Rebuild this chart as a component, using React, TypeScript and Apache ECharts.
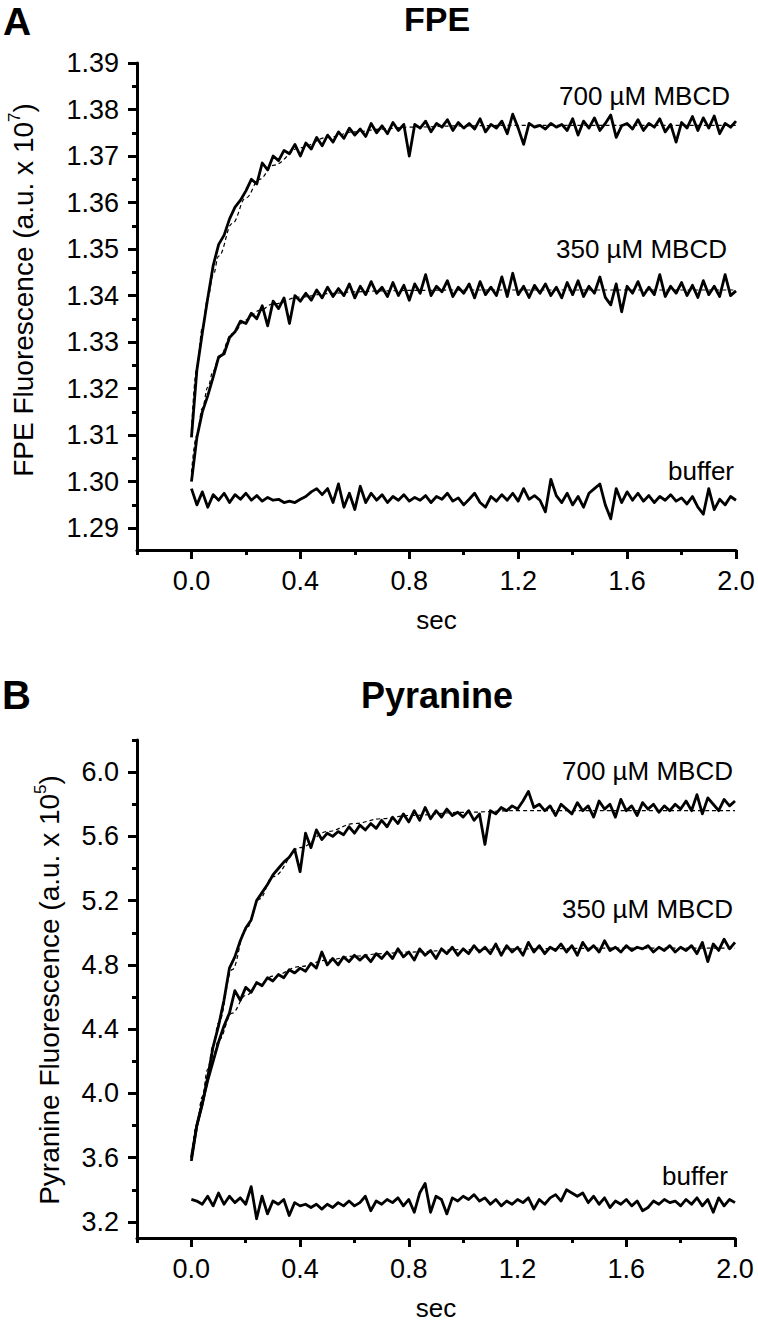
import React, { useEffect, useRef } from "react";
import * as echarts from "echarts";

// time sampling of the recorded traces (s)
const TIME = Array.from({ length: 101 }, (_, i) => Math.round(i * 2) / 100);
const FIT_TIME = [0, 0.02, 0.04, 0.06, 0.08, 0.1, 0.15, 0.2, 0.25, 0.3, 0.4, 0.5, 0.6, 0.7, 0.8, 1.0, 1.2, 1.6, 2.0];

// Panel A: FPE fluorescence (a.u. x 10^7)
const FPE_700 = [
  1.3095, 1.3240, 1.3320, 1.3395, 1.3465, 1.3510, 1.3530, 1.3565, 1.3590, 1.3605,
  1.3625, 1.3650, 1.3640, 1.3685, 1.3670, 1.3700, 1.3690, 1.3712, 1.3705, 1.3725,
  1.3700, 1.3728, 1.3715, 1.3740, 1.3722, 1.3745, 1.3730, 1.3752, 1.3738, 1.3760,
  1.3745, 1.3758, 1.3742, 1.3770, 1.3750, 1.3765, 1.3748, 1.3772, 1.3755, 1.3768,
  1.3700, 1.3768, 1.3760, 1.3775, 1.3752, 1.3770, 1.3762, 1.3778, 1.3755, 1.3772,
  1.3760, 1.3770, 1.3758, 1.3780, 1.3752, 1.3768, 1.3760, 1.3775, 1.3748, 1.3790,
  1.3760, 1.3725, 1.3770, 1.3762, 1.3766, 1.3758, 1.3770, 1.3762, 1.3768, 1.3755,
  1.3780, 1.3745, 1.3775, 1.3760, 1.3782, 1.3755, 1.3770, 1.3788, 1.3740, 1.3765,
  1.3770, 1.3758, 1.3778, 1.3755, 1.3770, 1.3762, 1.3780, 1.3752, 1.3768, 1.3730,
  1.3772, 1.3760, 1.3785, 1.3755, 1.3782, 1.3760, 1.3786, 1.3748, 1.3770, 1.3762,
  1.3775,
];
const FPE_350 = [
  1.3000, 1.3095, 1.3150, 1.3185, 1.3225, 1.3268, 1.3275, 1.3310, 1.3322, 1.3345,
  1.3340, 1.3362, 1.3350, 1.3378, 1.3335, 1.3388, 1.3372, 1.3395, 1.3340, 1.3400,
  1.3388, 1.3405, 1.3390, 1.3412, 1.3395, 1.3418, 1.3398, 1.3415, 1.3400, 1.3425,
  1.3395, 1.3420, 1.3402, 1.3430, 1.3405, 1.3418, 1.3398, 1.3428, 1.3400, 1.3422,
  1.3390, 1.3425, 1.3405, 1.3445, 1.3400, 1.3420, 1.3408, 1.3432, 1.3398, 1.3418,
  1.3405, 1.3425, 1.3395, 1.3430, 1.3402, 1.3418, 1.3400, 1.3440, 1.3398, 1.3448,
  1.3402, 1.3420, 1.3396, 1.3422, 1.3405, 1.3425, 1.3400, 1.3418, 1.3395, 1.3428,
  1.3402, 1.3432, 1.3398, 1.3420, 1.3405, 1.3440, 1.3396, 1.3380, 1.3425, 1.3365,
  1.3420, 1.3405, 1.3430, 1.3400, 1.3418, 1.3402, 1.3445, 1.3398, 1.3420, 1.3405,
  1.3428, 1.3400, 1.3422, 1.3396, 1.3432, 1.3402, 1.3420, 1.3398, 1.3445, 1.3400,
  1.3410,
];
const FPE_BUFFER = [
  1.2985, 1.2950, 1.2978, 1.2945, 1.2972, 1.2960, 1.2975, 1.2955, 1.2972, 1.2962,
  1.2975, 1.2960, 1.2970, 1.2958, 1.2966, 1.2960, 1.2962, 1.2955, 1.2958, 1.2955,
  1.2962, 1.2968, 1.2978, 1.2985, 1.2972, 1.2985, 1.2955, 1.2995, 1.2945, 1.2975,
  1.2940, 1.2990, 1.2955, 1.2975, 1.2960, 1.2972, 1.2955, 1.2968, 1.2960, 1.2972,
  1.2958, 1.2966, 1.2960, 1.2970, 1.2955, 1.2968, 1.2962, 1.2975, 1.2958, 1.2965,
  1.2950, 1.2962, 1.2975, 1.2955, 1.2945, 1.2968, 1.2958, 1.2972, 1.2960, 1.2975,
  1.2958, 1.2985, 1.2962, 1.2970, 1.2960, 1.2935, 1.3005, 1.2970, 1.2955, 1.2975,
  1.2950, 1.2968, 1.2945, 1.2975, 1.2985, 1.2995, 1.2950, 1.2920, 1.2985, 1.2955,
  1.2978, 1.2960, 1.2975, 1.2958, 1.2970, 1.2955, 1.2968, 1.2960, 1.2972, 1.2958,
  1.2965, 1.2952, 1.2968, 1.2945, 1.2930, 1.2985, 1.2940, 1.2962, 1.2950, 1.2968,
  1.2960,
];
const FPE_700_FIT = [1.3110, 1.3245, 1.3330, 1.3395, 1.3445, 1.3485, 1.3555, 1.3610, 1.3650, 1.3680, 1.3718, 1.3740, 1.3752, 1.3758, 1.3762, 1.3765, 1.3766, 1.3766, 1.3766];
const FPE_350_FIT = [1.3020, 1.3100, 1.3158, 1.3203, 1.3238, 1.3266, 1.3318, 1.3348, 1.3368, 1.3382, 1.3397, 1.3404, 1.3408, 1.3410, 1.3411, 1.3412, 1.3412, 1.3412, 1.3412];

// Panel B: Pyranine fluorescence (a.u. x 10^5)
const PYR_700 = [
  3.60, 3.80, 3.93, 4.10, 4.29, 4.42, 4.58, 4.78, 4.85, 4.95,
  5.03, 5.08, 5.20, 5.25, 5.30, 5.36, 5.40, 5.44, 5.47, 5.52,
  5.38, 5.62, 5.53, 5.64, 5.58, 5.62, 5.60, 5.63, 5.61, 5.66,
  5.62, 5.67, 5.64, 5.68, 5.65, 5.70, 5.66, 5.72, 5.68, 5.74,
  5.69, 5.76, 5.70, 5.78, 5.71, 5.76, 5.72, 5.77, 5.73, 5.75,
  5.72, 5.76, 5.70, 5.74, 5.55, 5.76, 5.74, 5.78, 5.76, 5.79,
  5.77, 5.82, 5.88, 5.78, 5.80, 5.76, 5.79, 5.73, 5.80, 5.77,
  5.74, 5.81, 5.76, 5.79, 5.72, 5.82, 5.77, 5.80, 5.72, 5.83,
  5.76, 5.79, 5.73, 5.81, 5.77, 5.80, 5.75, 5.79, 5.76, 5.80,
  5.77, 5.82, 5.76, 5.86, 5.74, 5.84, 5.80, 5.76, 5.83, 5.79,
  5.82,
];
const PYR_350 = [
  3.58, 3.80, 3.94, 4.08, 4.20, 4.32, 4.42, 4.50, 4.64, 4.58,
  4.66, 4.63, 4.69, 4.67, 4.72, 4.70, 4.74, 4.72, 4.77, 4.75,
  4.78, 4.76, 4.81, 4.78, 4.88, 4.80, 4.84, 4.80, 4.85, 4.82,
  4.86, 4.83, 4.86, 4.82, 4.87, 4.84, 4.88, 4.84, 4.90, 4.85,
  4.88, 4.83, 4.90, 4.86, 4.89, 4.84, 4.90, 4.87, 4.91, 4.86,
  4.90, 4.87, 4.92, 4.88, 4.91, 4.87, 4.93, 4.86, 4.92, 4.88,
  4.91, 4.86, 4.94, 4.88, 4.92, 4.87, 4.91, 4.89, 4.93, 4.88,
  4.92, 4.86, 4.94, 4.89, 4.92, 4.88, 4.95, 4.89, 4.91, 4.88,
  4.92, 4.89, 4.91, 4.90, 4.92, 4.88, 4.91, 4.89, 4.92, 4.88,
  4.91, 4.89, 4.92, 4.87, 4.94, 4.82, 4.93, 4.89, 4.96, 4.90,
  4.94,
];
const PYR_BUFFER = [
  3.34, 3.33, 3.31, 3.36, 3.30, 3.38, 3.31, 3.36, 3.32, 3.35,
  3.31, 3.42, 3.22, 3.36, 3.25, 3.33, 3.31, 3.34, 3.24, 3.32,
  3.30, 3.31, 3.29, 3.31, 3.28, 3.31, 3.29, 3.32, 3.30, 3.33,
  3.30, 3.32, 3.36, 3.27, 3.33, 3.31, 3.34, 3.32, 3.35, 3.30,
  3.34, 3.26, 3.38, 3.44, 3.26, 3.36, 3.34, 3.25, 3.35, 3.33,
  3.36, 3.34, 3.37, 3.33, 3.35, 3.31, 3.34, 3.30, 3.33, 3.31,
  3.34, 3.32, 3.35, 3.28, 3.34, 3.31, 3.35, 3.37, 3.33, 3.40,
  3.38, 3.36, 3.38, 3.32, 3.36, 3.31, 3.35, 3.29, 3.33, 3.31,
  3.34, 3.30, 3.33, 3.27, 3.29, 3.33, 3.31, 3.34, 3.32, 3.33,
  3.30, 3.34, 3.31, 3.35, 3.30, 3.34, 3.26, 3.35, 3.30, 3.34,
  3.32,
];
const PYR_700_FIT = [3.58, 3.80, 3.98, 4.15, 4.30, 4.44, 4.77, 5.02, 5.21, 5.35, 5.53, 5.63, 5.68, 5.71, 5.73, 5.75, 5.76, 5.76, 5.76];
const PYR_350_FIT = [3.58, 3.80, 3.97, 4.11, 4.23, 4.33, 4.50, 4.61, 4.68, 4.73, 4.79, 4.83, 4.855, 4.87, 4.88, 4.895, 4.90, 4.905, 4.905];

// tick values
const X_MAJOR = [0, 0.4, 0.8, 1.2, 1.6, 2.0];
const X_MINOR = [-0.2, 0.2, 0.6, 1.0, 1.4, 1.8];
const FPE_Y_MAJOR = [1.29, 1.30, 1.31, 1.32, 1.33, 1.34, 1.35, 1.36, 1.37, 1.38, 1.39];
const FPE_Y_MINOR = [1.295, 1.305, 1.315, 1.325, 1.335, 1.345, 1.355, 1.365, 1.375, 1.385];
const PYR_Y_MAJOR = [3.2, 3.6, 4.0, 4.4, 4.8, 5.2, 5.6, 6.0];
const PYR_Y_MINOR = [3.4, 3.8, 4.2, 4.6, 5.0, 5.4, 5.8, 6.2];

const FONT = '"Liberation Sans", Arial, Helvetica, sans-serif';

export default function App() {
  const ref = useRef<HTMLDivElement>(null);

  useEffect(() => {
    if (!ref.current) return;
    const chart = echarts.init(ref.current, null, { renderer: "svg" });

    const pair = (ts: number[], vs: number[]) => ts.map((t, i) => [t, vs[i]]);
    const trace = (name: string, idx: number, vs: number[]) => ({
      type: "line", name, xAxisIndex: idx, yAxisIndex: idx, data: pair(TIME, vs),
      showSymbol: false, symbol: "none", silent: true, z: 2,
      lineStyle: { color: "#000", width: 2.8, join: "round" },
    });
    const fit = (name: string, idx: number, vs: number[]) => ({
      type: "line", name, xAxisIndex: idx, yAxisIndex: idx, data: pair(FIT_TIME, vs),
      showSymbol: false, symbol: "none", silent: true, z: 3, smooth: 0.4, smoothMonotone: "x",
      lineStyle: { color: "#000", width: 1.2, type: [4, 3] },
    });

    const lineStyle = { color: "#000", width: 3 };
    const labelStyle = { fontSize: 27, color: "#000", fontFamily: FONT };
    const majorX = (gridIndex: number) => ({
      type: "value", gridIndex, min: -0.2, max: 2.0,
      axisLine: { show: true, onZero: false, lineStyle },
      axisTick: { show: true, customValues: X_MAJOR, length: 9, lineStyle },
      axisLabel: { ...labelStyle, customValues: X_MAJOR, margin: 17, formatter: (v: number) => v.toFixed(1) },
      splitLine: { show: false },
      name: "sec", nameLocation: "middle", nameGap: 57,
      nameTextStyle: { fontSize: 26, color: "#000", fontFamily: FONT },
    });
    const minorX = (gridIndex: number) => ({
      type: "value", gridIndex, min: -0.2, max: 2.0,
      axisLine: { show: false, onZero: false },
      axisTick: { show: true, customValues: X_MINOR, length: 5, lineStyle },
      axisLabel: { show: false }, splitLine: { show: false },
    });
    const majorY = (gridIndex: number, min: number, max: number, ticks: number[], dec: number) => ({
      type: "value", gridIndex, min, max,
      axisLine: { show: true, onZero: false, lineStyle },
      axisTick: { show: true, customValues: ticks, length: 9, lineStyle },
      axisLabel: { ...labelStyle, customValues: ticks, margin: 18, formatter: (v: number) => v.toFixed(dec) },
      splitLine: { show: false },
    });
    const minorY = (gridIndex: number, min: number, max: number, ticks: number[]) => ({
      type: "value", gridIndex, min, max,
      axisLine: { show: false, onZero: false },
      axisTick: { show: true, customValues: ticks, length: 5, lineStyle },
      axisLabel: { show: false }, splitLine: { show: false },
    });

    const gridA = { left: 137, top: 63, width: 599, height: 487, outerBoundsMode: "none" };
    const gridB = { left: 137, top: 740, width: 598, height: 498, outerBoundsMode: "none" };

    const txt = (text: string, x: number, y: number, size: number, align: string, weight = "normal") => ({
      type: "text", x, y, silent: true,
      style: { text, fill: "#000", fontSize: size, fontWeight: weight, fontFamily: FONT, align, verticalAlign: "middle" },
    });
    const axisTitle = (main: string, sup: string, x: number, y: number) => ({
      type: "text", x, y, rotation: Math.PI / 2, silent: true,
      style: {
        text: `{a|${main}}{s|${sup}}{a|)}`,
        align: "center", verticalAlign: "middle", fill: "#000",
        rich: {
          a: { fontSize: 28, lineHeight: 34, fontFamily: FONT, fill: "#000" },
          s: { fontSize: 17, lineHeight: 22, fontFamily: FONT, fill: "#000", verticalAlign: "top" },
        },
      },
    });

    chart.setOption({
      animation: false,
      backgroundColor: "#fff",
      grid: [gridA, gridB, { ...gridA }, { ...gridB }],
      xAxis: [majorX(0), majorX(1), minorX(2), minorX(3)],
      yAxis: [
        majorY(0, 1.2853, 1.39, FPE_Y_MAJOR, 2),
        majorY(1, 3.1, 6.2, PYR_Y_MAJOR, 1),
        minorY(2, 1.2853, 1.39, FPE_Y_MINOR),
        minorY(3, 3.1, 6.2, PYR_Y_MINOR),
      ],
      series: [
        trace("FPE 700 µM MBCD", 0, FPE_700),
        trace("FPE 350 µM MBCD", 0, FPE_350),
        trace("FPE buffer", 0, FPE_BUFFER),
        fit("FPE 700 fit", 0, FPE_700_FIT),
        fit("FPE 350 fit", 0, FPE_350_FIT),
        trace("Pyranine 700 µM MBCD", 1, PYR_700),
        trace("Pyranine 350 µM MBCD", 1, PYR_350),
        trace("Pyranine buffer", 1, PYR_BUFFER),
        fit("Pyranine 700 fit", 1, PYR_700_FIT),
        fit("Pyranine 350 fit", 1, PYR_350_FIT),
      ],
      graphic: [
        txt("A", 3, 21, 39, "left", "bold"),
        txt("FPE", 437, 19, 34, "center", "bold"),
        txt("B", 2, 695, 40, "left", "bold"),
        txt("Pyranine", 437, 695, 36, "center", "bold"),
        txt("700 µM MBCD", 730, 96, 26, "right"),
        txt("350 µM MBCD", 727, 249, 26, "right"),
        txt("buffer", 734, 471, 26, "right"),
        txt("700 µM MBCD", 733, 771, 26, "right"),
        txt("350 µM MBCD", 733, 909, 26, "right"),
        txt("buffer", 728, 1176, 26, "right"),
        axisTitle("FPE Fluorescence (a.u. x 10", "7", 23, 290),
        axisTitle("Pyranine Fluorescence (a.u. x 10", "5", 49, 990),
      ],
    });

    return () => chart.dispose();
  }, []);

  return (
    <div
      ref={ref}
      style={{ position: "absolute", left: 0, top: 0, width: 758, height: 1322, background: "#fff" }}
    />
  );
}
